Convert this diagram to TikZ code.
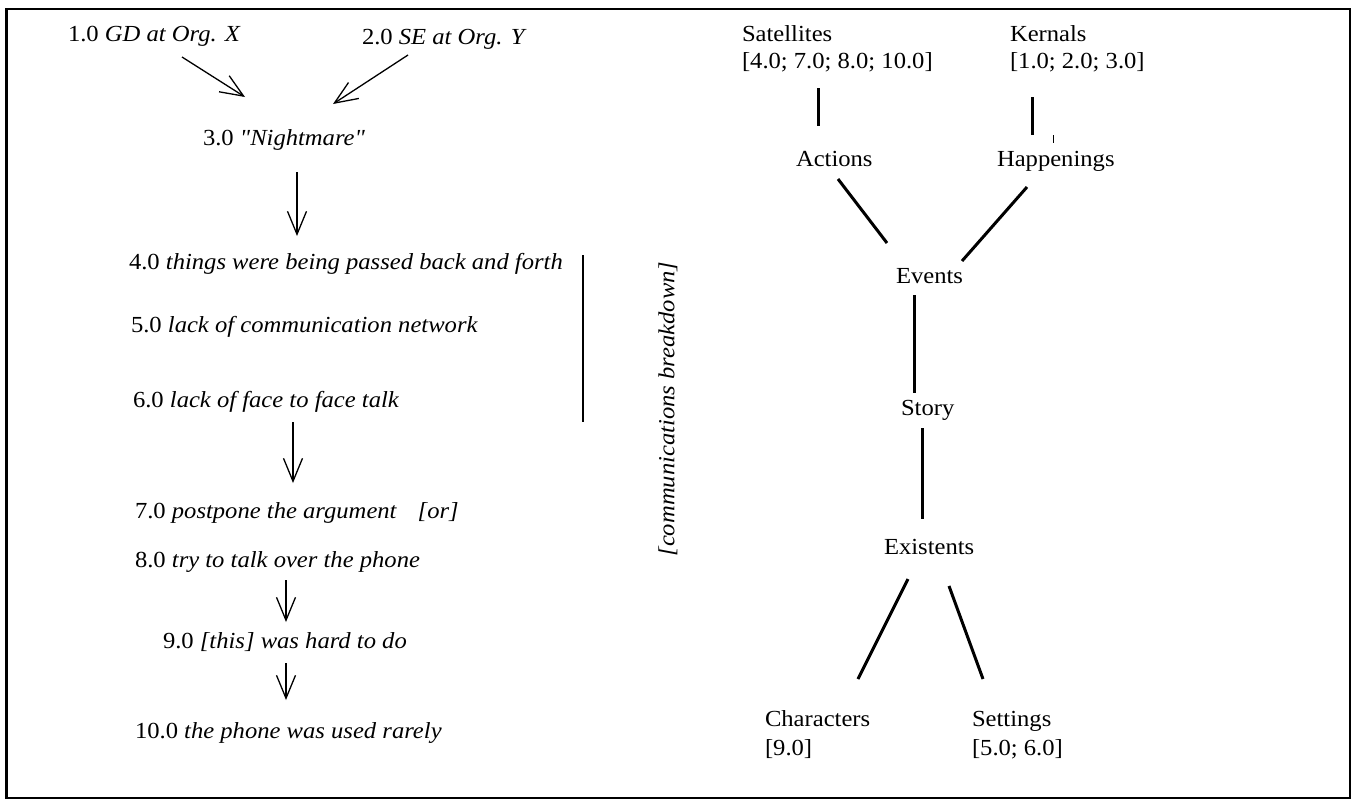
\documentclass[tikz,border=0pt]{standalone}
\usepackage{fontspec}
\setmainfont[FakeStretch=1.07]{Liberation Serif}
\newfontfamily\plainquote[FakeStretch=1.07]{Liberation Serif}
\newcommand{\sq}{{\plainquote\itshape\symbol{34}}}
\usetikzlibrary{arrows.meta}
\begin{document}
\begin{tikzpicture}[x=1pt,y=-1pt,
  every node/.style={font=\fontsize{23}{27}\selectfont, inner sep=0pt, outer sep=0pt},
  lbl/.style={anchor=base west},
  flowarrow/.style={line width=1.3pt, -{Straight Barb[length=23pt,width=19pt,line width=1.3pt]}},
  treeline/.style={line width=3pt},
  thinline/.style={line width=1.5pt}]
\useasboundingbox (0,0) rectangle (1352,801);
\draw[line width=2.5pt] (6.5,9) rectangle (1350,798);

% left column
\node[lbl] (t1) at (68,41) {1.0 \textit{GD at Org. X}};
\node[lbl] (t2) at (362,44) {2.0 \textit{SE at Org. Y}};
\node[lbl] (t3) at (203,145) {3.0 \textit{\sq Nightmare\sq}};
\node[lbl] (t4) at (129,269) {4.0 \textit{things were being passed back and forth}};
\node[lbl] (t5) at (131,332) {5.0 \textit{lack of communication network}};
\node[lbl] (t6) at (133,407) {6.0 \textit{lack of face to face talk}};
\node[lbl] (t7) at (135,518) {7.0 \textit{postpone the argument}\hspace{0.9em}\textit{[or]}};
\node[lbl] (t8) at (135,567) {8.0 \textit{try to talk over the phone}};
\node[lbl] (t9) at (163,648) {9.0 \textit{[this] was hard to do}};
\node[lbl] (t10) at (135,738) {10.0 \textit{the phone was used rarely}};
\node[rotate=90] (cb) at (668,409) {\textit{[communications breakdown]}};

\coordinate (a1s) at (182,57);  \coordinate (a1e) at (245,97);
\coordinate (a2s) at (408,55);  \coordinate (a2e) at (333,104);
\coordinate (a3s) at (297,172); \coordinate (a3e) at (297,236);
\coordinate (a4s) at (293,422); \coordinate (a4e) at (293,483);
\coordinate (a5s) at (286,580); \coordinate (a5e) at (286,622);
\coordinate (a6s) at (286,663); \coordinate (a6e) at (286,700);
\coordinate (brs) at (583,255); \coordinate (bre) at (583,422);

\draw[flowarrow] (a1s) -- (a1e);
\draw[flowarrow] (a2s) -- (a2e);
\draw[flowarrow] (a3s) -- (a3e);
\draw[flowarrow] (a4s) -- (a4e);
\draw[flowarrow] (a5s) -- (a5e);
\draw[flowarrow] (a6s) -- (a6e);
\draw[thinline] (brs) -- (bre);

% right tree
\node[lbl] (sat) at (742,41) {Satellites};
\node[lbl] (satn) at (742,68) {[4.0; 7.0; 8.0; 10.0]};
\node[lbl] (ker) at (1010,41) {Kernals};
\node[lbl] (kern) at (1010,68) {[1.0; 2.0; 3.0]};
\node[lbl] (act) at (796,166) {Actions};
\node[lbl] (hap) at (997,166) {Happenings};
\node[lbl] (evt) at (896,283) {Events};
\node[lbl] (sto) at (901,415) {Story};
\node[lbl] (exi) at (884,554) {Existents};
\node[lbl] (cha) at (765,726) {Characters};
\node[lbl] (chan) at (765,755) {[9.0]};
\node[lbl] (set) at (972,726) {Settings};
\node[lbl] (setn) at (972,755) {[5.0; 6.0]};

\coordinate (l1s) at (818,88);  \coordinate (l1e) at (818,126);
\coordinate (l2s) at (1032,97); \coordinate (l2e) at (1032,135);
\coordinate (tks) at (1053,135); \coordinate (tke) at (1053,143);
\coordinate (l3s) at (838,179); \coordinate (l3e) at (887,243);
\coordinate (l4s) at (1027,187); \coordinate (l4e) at (962,261);
\coordinate (l5s) at (914,295); \coordinate (l5e) at (914,393);
\coordinate (l6s) at (922,428); \coordinate (l6e) at (922,519);
\coordinate (l7s) at (908,579); \coordinate (l7e) at (858,679);
\coordinate (l8s) at (949,586); \coordinate (l8e) at (983,679);

\draw[treeline] (l1s) -- (l1e);
\draw[treeline] (l2s) -- (l2e);
\draw[line width=0.8pt] (tks) -- (tke);
\draw[treeline] (l3s) -- (l3e);
\draw[treeline] (l4s) -- (l4e);
\draw[treeline] (l5s) -- (l5e);
\draw[treeline] (l6s) -- (l6e);
\draw[treeline] (l7s) -- (l7e);
\draw[treeline] (l8s) -- (l8e);
\end{tikzpicture}
\end{document}
